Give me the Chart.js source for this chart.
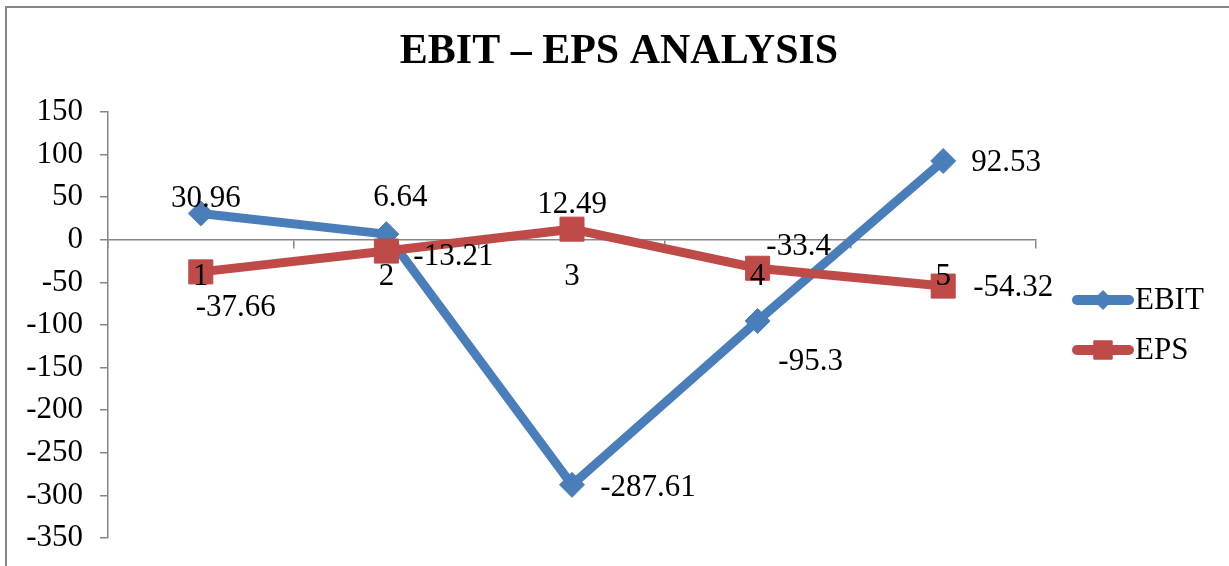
<!DOCTYPE html>
<html>
<head>
<meta charset="utf-8">
<title>EBIT – EPS Analysis</title>
<script src="https://cdn.jsdelivr.net/npm/chart.js@4.4.1/dist/chart.umd.min.js"></script>
<style>
  html, body { margin: 0; padding: 0; background: #fff; }
  canvas { display: block; }
</style>
</head>
<body>
<canvas id="chart" width="1229" height="566"></canvas>
<script>
// --- DATA ---
const categories = ['1', '2', '3', '4', '5'];
const ebitValues = [30.96, 6.64, -287.61, -95.3, 92.53];
const epsValues = [-37.66, -13.21, 12.49, -33.4, -54.32];
const yMin = -350;
const yMax = 150;
const yStep = 50;
const chartTitle = 'EBIT – EPS ANALYSIS';

// --- STYLE ---
const SERIF = "'Liberation Serif', 'Times New Roman', serif";
const BLUE = '#4A7EBB';
const RED = '#BE4B48';
const AXIS_GREY = '#868686';
const TEXT_SIZE = 31;

// where each value label sits relative to its point (px), per dataset
const labelOffsets = [
    [[5, -15], [14, -36], [76, 3], [53, 41], [63, 2]],
    [[35, 36], [67, 6], [0, -24], [41, -21], [70, 2]]
];

// Frame + title + value labels + legend, drawn like the Excel original
const excelDecor = {
    id: 'excelDecor',
    beforeDraw: (chart) => {
        const ctx = chart.ctx;
        ctx.save();
        ctx.strokeStyle = AXIS_GREY;
        ctx.lineWidth = 2;
        ctx.strokeRect(6, 7, chart.width + 20, chart.height + 20);
        ctx.restore();
    },
    afterDatasetsDraw: (chart) => {
        const ctx = chart.ctx;
        ctx.save();
        ctx.font = `${TEXT_SIZE}px ${SERIF}`;
        ctx.fillStyle = '#000';
        ctx.textAlign = 'center';
        ctx.textBaseline = 'middle';
        chart.data.datasets.forEach((ds, di) => {
            const meta = chart.getDatasetMeta(di);
            meta.data.forEach((pt, i) => {
                const [dx, dy] = labelOffsets[di][i];
                ctx.fillText(String(ds.data[i]), pt.x + dx, pt.y + dy);
            });
        });
        ctx.restore();
    },
    afterDraw: (chart) => {
        const ctx = chart.ctx;
        ctx.save();
        // title
        ctx.font = `bold 42px ${SERIF}`;
        ctx.fillStyle = '#000';
        ctx.textAlign = 'center';
        ctx.textBaseline = 'middle';
        ctx.fillText(chartTitle, 619, 52);

        // legend
        const rows = [300, 350];
        chart.data.datasets.forEach((ds, i) => {
            const y = rows[i];
            ctx.strokeStyle = ds.borderColor;
            ctx.lineWidth = 10;
            ctx.lineCap = 'round';
            ctx.beginPath();
            ctx.moveTo(1077, y);
            ctx.lineTo(1129, y);
            ctx.stroke();
            ctx.lineWidth = 1;
            ctx.lineCap = 'butt';
            ctx.fillStyle = ds.borderColor;
            Chart.helpers.drawPoint(ctx, {
                pointStyle: ds.pointStyle,
                radius: ds.pointStyle === 'rect' ? 13 : 9.5,
                borderWidth: 1,
                rotation: 0
            }, 1103, y);
            ctx.fillStyle = '#000';
            ctx.font = `${TEXT_SIZE}px ${SERIF}`;
            ctx.textAlign = 'left';
            ctx.textBaseline = 'middle';
            ctx.fillText(ds.label, 1135, y + 1);
        });
        ctx.restore();
    }
};

// axes that cross at y = 0 should not eat into the plot height
const noSpace = (scale) => {
    scale.height = 0;
    scale.paddingTop = 0;
    scale.paddingBottom = 0;
    scale.paddingLeft = 0;
    scale.paddingRight = 0;
};

const chart = new Chart(document.getElementById('chart'), {
    type: 'line',
    data: {
        labels: categories,
        datasets: [
            {
                label: 'EBIT',
                data: ebitValues,
                borderColor: BLUE,
                backgroundColor: BLUE,
                borderWidth: 9,
                pointStyle: 'rectRot',
                pointRadius: 12.5,
                pointBorderWidth: 1,
                tension: 0,
                order: 1
            },
            {
                label: 'EPS',
                data: epsValues,
                borderColor: RED,
                backgroundColor: RED,
                borderWidth: 9,
                pointStyle: 'rect',
                pointRadius: 17,
                pointBorderWidth: 1,
                tension: 0,
                order: 0
            }
        ]
    },
    options: {
        responsive: false,
        animation: false,
        events: [],
        layout: { padding: { left: 0, right: 193, top: 112, bottom: 28 } },
        plugins: {
            legend: { display: false },
            title: { display: false },
            tooltip: { enabled: false }
        },
        scales: {
            y: {
                min: yMin,
                max: yMax,
                afterFit: (scale) => {
                    scale.width = 108;
                    scale.paddingTop = 0;
                    scale.paddingBottom = 0;
                },
                ticks: {
                    stepSize: yStep,
                    padding: 17,
                    color: '#000',
                    font: { family: SERIF, size: TEXT_SIZE }
                },
                grid: {
                    drawOnChartArea: false,
                    tickLength: 8,
                    color: AXIS_GREY,
                    lineWidth: 1.5
                },
                border: { color: AXIS_GREY, width: 1.5 }
            },
            x: {
                position: { y: 0 },
                offset: true,
                afterFit: noSpace,
                ticks: { display: false },
                grid: {
                    offset: true,
                    drawOnChartArea: false,
                    tickLength: 8,
                    color: AXIS_GREY,
                    lineWidth: 1.5
                },
                border: { color: AXIS_GREY, width: 1.5 }
            },
            // category names sit on top of the markers, as in Excel
            xLabels: {
                type: 'category',
                axis: 'x',
                position: { y: 0 },
                offset: true,
                afterFit: noSpace,
                border: { display: false },
                grid: { display: false, drawTicks: false },
                ticks: {
                    z: 1,
                    padding: 18,
                    color: '#000',
                    font: { family: SERIF, size: TEXT_SIZE }
                }
            }
        }
    },
    plugins: [excelDecor]
});
</script>
</body>
</html>
